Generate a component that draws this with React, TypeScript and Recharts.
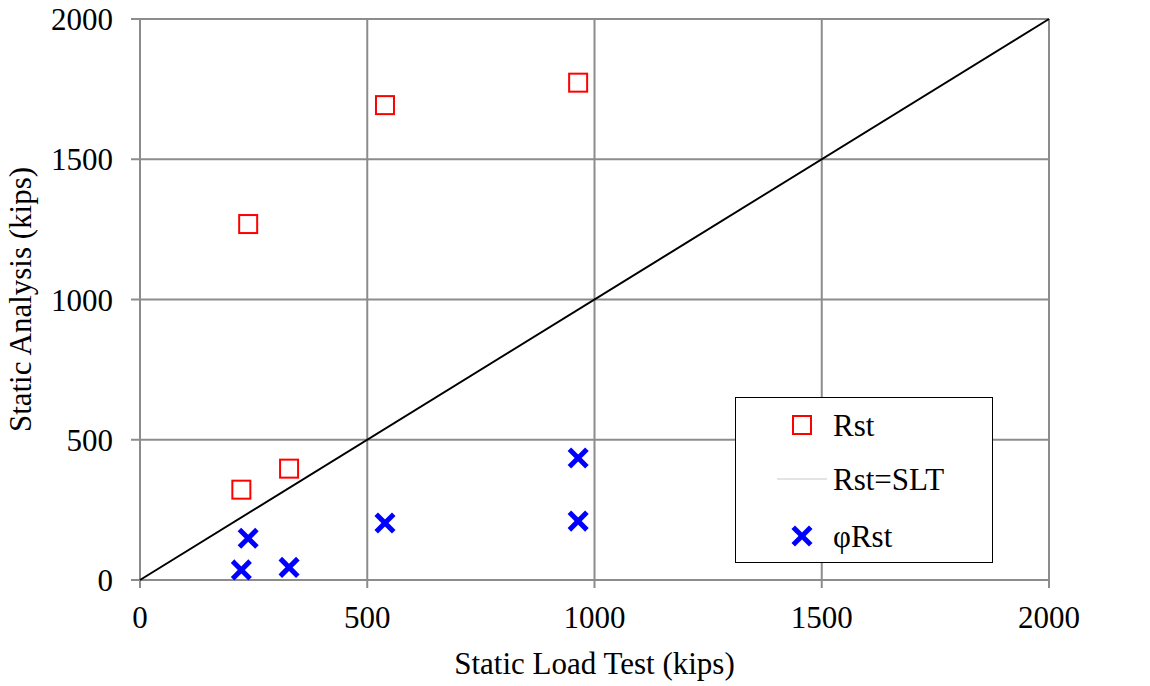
import React from "react";
import {
  ScatterChart,
  Scatter,
  XAxis,
  YAxis,
  CartesianGrid,
} from "recharts";

const rstX = [223, 238, 328, 539, 964];
const rstY = [322, 1269, 397, 1693, 1773];
const phiX = [223, 238, 328, 539, 964, 964];
const phiY = [36, 149, 45, 203, 435, 210];
const lineX = [0, 2000];
const lineY = [0, 2000];
const axisTicks = [0, 500, 1000, 1500, 2000];

const rstData = rstX.map((x, i) => ({ x, y: rstY[i] }));
const phiData = phiX.map((x, i) => ({ x, y: phiY[i] }));
const lineData = lineX.map((x, i) => ({ x, y: lineY[i] }));

const FONT = "'Liberation Serif', 'Times New Roman', serif";
const GRID = "#8c8c8c";
const FS = 31;

const SquareShape = (props: any) => {
  const { cx, cy } = props;
  if (cx == null || cy == null) return <g />;
  return (
    <rect x={cx - 9} y={cy - 9} width={18} height={18} fill="none" stroke="#ff0000" strokeWidth={2} />
  );
};

const CrossShape = (props: any) => {
  const { cx, cy } = props;
  if (cx == null || cy == null) return <g />;
  const d = 7;
  return (
    <g stroke="#0000ff" strokeWidth={5} strokeLinecap="square">
      <line x1={cx - d} y1={cy - d} x2={cx + d} y2={cy + d} />
      <line x1={cx - d} y1={cy + d} x2={cx + d} y2={cy - d} />
    </g>
  );
};

const EmptyShape = () => <g />;

const LegendBox = () => (
  <svg width={258} height={166} style={{ display: "block" }}>
    <rect x={0.5} y={0.5} width={257} height={165} fill="#fff" stroke="#000" strokeWidth={1} />
    <rect x={58} y={19} width={18} height={18} fill="none" stroke="#ff0000" strokeWidth={2} />
    <text x={98} y={28} dominantBaseline="central" fontFamily={FONT} fontSize={FS} fill="#000">Rst</text>
    <line x1={42} y1={82} x2={92} y2={82} stroke="#c8c8c8" strokeWidth={1} />
    <text x={98} y={82} dominantBaseline="central" fontFamily={FONT} fontSize={FS} fill="#000">Rst=SLT</text>
    <g stroke="#0000ff" strokeWidth={5} strokeLinecap="square">
      <line x1={60} y1={132} x2={74} y2={146} />
      <line x1={60} y1={146} x2={74} y2={132} />
    </g>
    <text x={98} y={139} dominantBaseline="central" fontFamily={FONT} fontSize={FS} fill="#000">φRst</text>
  </svg>
);

export default function App() {
  const tickStyle = { fontFamily: FONT, fontSize: FS, fill: "#000" };
  return (
    <div style={{ position: "absolute", left: 0, top: 0, width: 1150, height: 686, background: "#fff" }}>
      <ScatterChart width={1150} height={686} margin={{ top: 19, right: 0, bottom: 0, left: 0 }}>
        <CartesianGrid yAxisId="left" stroke={GRID} strokeWidth={2} horizontalValues={axisTicks} verticalValues={axisTicks} />
        <XAxis
          type="number"
          dataKey="x"
          domain={[0, 2000]}
          ticks={axisTicks}
          height={106}
          tickSize={8}
          tickMargin={18}
          tick={tickStyle}
          axisLine={{ stroke: GRID, strokeWidth: 2 }}
          tickLine={{ stroke: GRID, strokeWidth: 2 }}
          label={{ value: "Static Load Test (kips)", position: "insideBottom", offset: 12, style: { fontFamily: FONT, fontSize: FS, fill: "#000" } }}
        />
        <YAxis
          yAxisId="left"
          type="number"
          dataKey="y"
          domain={[0, 2000]}
          ticks={axisTicks}
          width={140}
          tickSize={9}
          tickMargin={18}
          tick={tickStyle}
          axisLine={{ stroke: GRID, strokeWidth: 2 }}
          tickLine={{ stroke: GRID, strokeWidth: 2 }}
          label={{ value: "Static Analysis (kips)", angle: -90, position: "insideLeft", offset: 20, style: { fontFamily: FONT, fontSize: FS, fill: "#000", textAnchor: "middle" } }}
        />
        <YAxis
          yAxisId="right"
          orientation="right"
          type="number"
          dataKey="y"
          domain={[0, 2000]}
          ticks={axisTicks}
          width={101}
          tickSize={8}
          tickMargin={18}
          tick={tickStyle}
          axisLine={{ stroke: GRID, strokeWidth: 2 }}
          tickLine={{ stroke: GRID, strokeWidth: 2 }}
        />
        <Scatter
          name="Rst=SLT"
          data={lineData}
          yAxisId="left"
          line={{ stroke: "#000", strokeWidth: 2 }}
          shape={EmptyShape}
          isAnimationActive={false}
        />
        <Scatter name="Rst" data={rstData} yAxisId="left" shape={SquareShape} isAnimationActive={false} />
        <Scatter name="φRst" data={phiData} yAxisId="left" shape={CrossShape} isAnimationActive={false} />
      </ScatterChart>
      <div style={{ position: "absolute", left: 735, top: 397 }}>
        <LegendBox />
      </div>
    </div>
  );
}
